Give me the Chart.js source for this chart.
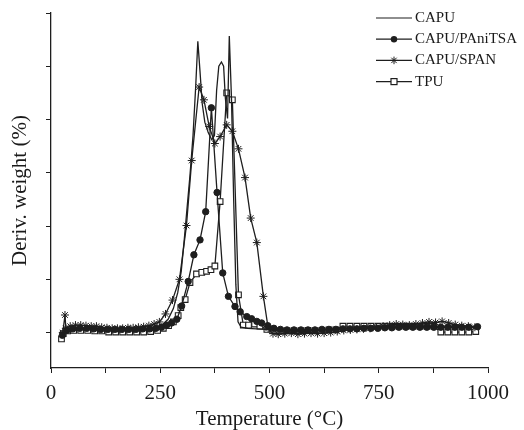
<!DOCTYPE html>
<html>
<head>
<meta charset="utf-8">
<script src="https://cdn.jsdelivr.net/npm/chart.js@4.4.0/dist/chart.umd.min.js"></script>
<style>
  html, body { margin: 0; padding: 0; background: #fff; }
  #wrap { width: 524px; height: 430px; }
</style>
</head>
<body>
<div id="wrap"><canvas id="dtgChart" width="524" height="430"></canvas></div>
<script>
// values (temperature in °C, derivative weight in tick units)
const capuTemp = [25, 30, 45, 60, 80, 100, 120, 140, 160, 180, 200, 220, 240, 255, 268, 280, 290, 298, 305, 312,
  318, 325, 331, 336, 341, 346, 352, 360, 368, 374, 379, 384, 390, 395, 399, 404, 408, 413, 418, 423,
  428, 435, 450, 470, 490, 510, 540, 570, 600, 630, 660, 690, 720, 750, 780, 810, 840, 870, 900, 930, 955, 975];
const capuDeriv = [-0.08, 0.0, 0.06, 0.07, 0.07, 0.07, 0.06, 0.06, 0.06, 0.06, 0.07, 0.08, 0.1, 0.15, 0.25, 0.45, 0.75, 1.15, 1.75, 2.4,
  2.95, 3.7, 4.6, 5.47, 4.9, 4.3, 3.95, 3.75, 3.62, 3.7, 4.55, 5.0, 5.08, 5.0, 4.4, 4.02, 5.57, 4.4, 2.5, 0.9,
  0.2, 0.1, 0.08, 0.07, 0.06, 0.05, 0.05, 0.05, 0.05, 0.06, 0.08, 0.09, 0.1, 0.1, 0.11, 0.12, 0.12, 0.12, 0.12, 0.11, 0.1, 0.1];

const paniTemp = [26, 36, 50, 66, 82, 98, 114, 130, 146, 162, 178, 194, 210, 226, 240, 253, 265, 276, 288, 299,
  314, 327, 341, 354, 367, 380, 393, 406, 421, 433, 448, 459, 471, 482, 496, 510, 525, 540, 556, 572,
  588, 604, 620, 636, 652, 668, 684, 700, 716, 732, 748, 764, 780, 796, 812, 828, 844, 860, 876, 892,
  908, 924, 940, 956, 976];
const paniDeriv = [-0.05, 0.04, 0.07, 0.08, 0.08, 0.07, 0.06, 0.06, 0.06, 0.06, 0.06, 0.06, 0.07, 0.07, 0.08, 0.1, 0.14, 0.18, 0.25, 0.5,
  0.96, 1.46, 1.74, 2.27, 4.22, 2.63, 1.12, 0.68, 0.49, 0.39, 0.3, 0.26, 0.21, 0.18, 0.13, 0.08, 0.06, 0.05, 0.05, 0.05,
  0.05, 0.05, 0.06, 0.06, 0.06, 0.07, 0.07, 0.07, 0.08, 0.08, 0.08, 0.09, 0.09, 0.1, 0.1, 0.1, 0.1, 0.1, 0.1, 0.1,
  0.1, 0.1, 0.1, 0.1, 0.11];

const spanTemp = [27, 32, 34, 44, 56, 68, 80, 92, 104, 116, 128, 140, 152, 164, 176, 188, 200, 212, 224, 236,
  248, 262, 278, 294, 310, 322, 339, 350, 362, 375, 387, 402, 415, 429, 444, 457, 471, 486, 497, 508,
  520, 535, 550, 565, 580, 595, 610, 625, 640, 655, 670, 685, 700, 715, 730, 745, 760, 775, 790, 805,
  820, 835, 850, 865, 880, 895, 910, 925, 940, 955, 970];
const spanDeriv = [0.0, 0.33, 0.08, 0.12, 0.14, 0.14, 0.13, 0.12, 0.12, 0.1, 0.09, 0.08, 0.08, 0.08, 0.09, 0.09, 0.1, 0.11, 0.13, 0.16,
  0.2, 0.35, 0.61, 1.0, 2.01, 3.23, 4.61, 4.37, 3.87, 3.55, 3.68, 3.9, 3.78, 3.45, 2.91, 2.15, 1.69, 0.68, 0.08, -0.02,
  -0.03, -0.02, -0.01, -0.03, -0.02, -0.01, -0.02, -0.01, 0.0, 0.02, 0.04, 0.05, 0.06, 0.07, 0.08, 0.1, 0.12, 0.14, 0.16, 0.15,
  0.14, 0.16, 0.18, 0.2, 0.19, 0.21, 0.18, 0.15, 0.13, 0.12, 0.1];

const tpuTemp = [24, 28, 38, 52, 68, 84, 100, 116, 132, 148, 164, 180, 196, 212, 228, 244, 257, 269, 280, 291,
  297, 307, 318, 333, 345, 356, 366, 375, 387, 402, 415, 429, 440, 452, 466, 478, 494, 508, 524, 540,
  556, 572, 588, 604, 620, 636, 652, 668, 684, 700, 716, 732, 748, 764, 780, 796, 812, 828, 844, 860,
  876, 892, 908, 924, 940, 956, 972];
const tpuDeriv = [-0.12, -0.02, 0.03, 0.04, 0.04, 0.04, 0.03, 0.03, 0.01, 0.01, 0.01, 0.01, 0.01, 0.01, 0.02, 0.04, 0.08, 0.13, 0.2, 0.32,
  0.47, 0.62, 0.94, 1.1, 1.13, 1.15, 1.18, 1.25, 2.46, 4.5, 4.37, 0.71, 0.14, 0.14, 0.16, 0.12, 0.06, 0.04, 0.03, 0.03,
  0.03, 0.03, 0.04, 0.03, 0.04, 0.05, 0.05, 0.12, 0.12, 0.12, 0.12, 0.12, 0.12, 0.12, 0.12, 0.12, 0.12, 0.12, 0.12, 0.12,
  0.12, 0.01, 0.01, 0.01, 0.01, 0.01, 0.02];

const seriesNames = ['CAPU', 'CAPU/PAniTSA', 'CAPU/SPAN', 'TPU'];
const xTickValues = [0, 125, 250, 375, 500, 625, 750, 875, 1000];
const xTickLabels = [0, 250, 500, 750, 1000];
const yTickValues = [0, 1, 2, 3, 4, 5, 6];

const ink = '#1e1e1e';
const serif = '"Liberation Serif", "Times New Roman", serif';

function toPoints(temps, vals) {
    return temps.map((t, i) => ({ x: t, y: vals[i] }));
}

// small legend in the upper right corner: line sample with marker, then the name
const cornerLegend = {
    id: 'cornerLegend',
    afterDraw(chart) {
        const ctx = chart.ctx;
        ctx.save();
        chart.data.datasets.forEach((ds, i) => {
            const y = 18 + i * 21.2;
            ctx.strokeStyle = ink;
            ctx.lineWidth = 1.2;
            ctx.beginPath();
            ctx.moveTo(376, y);
            ctx.lineTo(412, y);
            ctx.stroke();

            const cx = 394;
            if (ds.pointStyle === 'circle') {
                ctx.fillStyle = ink;
                ctx.beginPath();
                ctx.arc(cx, y, 3.2, 0, Math.PI * 2);
                ctx.fill();
            } else if (ds.pointStyle === 'rect') {
                ctx.fillStyle = '#fff';
                ctx.fillRect(cx - 3, y - 3, 6, 6);
                ctx.strokeRect(cx - 3, y - 3, 6, 6);
            } else if (ds.pointStyle === 'star') {
                ctx.lineWidth = 1;
                ctx.beginPath();
                for (let k = 0; k < 4; k++) {
                    const a = k * Math.PI / 4;
                    ctx.moveTo(cx - 3.8 * Math.cos(a), y - 3.8 * Math.sin(a));
                    ctx.lineTo(cx + 3.8 * Math.cos(a), y + 3.8 * Math.sin(a));
                }
                ctx.stroke();
            }

            ctx.fillStyle = '#1a1a1a';
            ctx.font = '15px ' + serif;
            ctx.textBaseline = 'middle';
            ctx.textAlign = 'left';
            ctx.fillText(ds.label, 415, y);
        });
        ctx.restore();
    }
};

const ctx = document.getElementById('dtgChart').getContext('2d');
const dtgChart = new Chart(ctx, {
    type: 'line',
    data: {
        datasets: [
            {
                label: seriesNames[0],
                data: toPoints(capuTemp, capuDeriv),
                borderColor: ink,
                borderWidth: 1.3,
                pointRadius: 0,
                pointStyle: false
            },
            {
                label: seriesNames[1],
                data: toPoints(paniTemp, paniDeriv),
                borderColor: ink,
                borderWidth: 1.3,
                pointStyle: 'circle',
                pointRadius: 3.2,
                pointBackgroundColor: ink,
                pointBorderColor: ink,
                pointBorderWidth: 1
            },
            {
                label: seriesNames[2],
                data: toPoints(spanTemp, spanDeriv),
                borderColor: ink,
                borderWidth: 1.3,
                pointStyle: 'star',
                pointRadius: 4,
                pointBackgroundColor: ink,
                pointBorderColor: ink,
                pointBorderWidth: 1
            },
            {
                label: seriesNames[3],
                data: toPoints(tpuTemp, tpuDeriv),
                borderColor: ink,
                borderWidth: 1.3,
                pointStyle: 'rect',
                pointRadius: 4,
                pointBackgroundColor: '#fff',
                pointBorderColor: ink,
                pointBorderWidth: 1.1
            }
        ]
    },
    options: {
        responsive: false,
        animation: false,
        layout: { padding: { top: 13, right: 36, left: 0, bottom: 0 } },
        elements: { line: { tension: 0 } },
        plugins: {
            legend: { display: false },
            tooltip: { enabled: false }
        },
        scales: {
            x: {
                type: 'linear',
                min: 0,
                max: 1000,
                afterBuildTicks: (scale) => { scale.ticks = xTickValues.map(v => ({ value: v })); },
                afterFit: (scale) => { scale.height = 62; },
                ticks: {
                    autoSkip: false,
                    maxRotation: 0,
                    padding: 8,
                    color: '#1a1a1a',
                    font: { family: serif, size: 21 },
                    callback: (value) => xTickLabels.includes(value) ? String(value) : ''
                },
                grid: { display: true, drawOnChartArea: false, drawTicks: true, tickLength: 5, color: ink, lineWidth: 1 },
                border: { display: true, color: ink, width: 1.3 },
                title: {
                    display: true,
                    text: 'Temperature (°C)',
                    color: '#1a1a1a',
                    font: { family: serif, size: 21, lineHeight: 1 },
                    padding: 0
                }
            },
            y: {
                type: 'linear',
                min: -0.665,
                max: 6,
                afterBuildTicks: (scale) => { scale.ticks = yTickValues.map(v => ({ value: v })); },
                afterFit: (scale) => { scale.width = 51; },
                ticks: { display: false },
                grid: { display: true, drawOnChartArea: false, drawTicks: true, tickLength: 5, color: ink, lineWidth: 1 },
                border: { display: true, color: ink, width: 1.3 },
                title: {
                    display: true,
                    text: 'Deriv. weight (%)',
                    color: '#1a1a1a',
                    font: { family: serif, size: 21, lineHeight: 1.2 },
                    padding: { top: 8, bottom: 0 }
                }
            }
        }
    },
    plugins: [cornerLegend]
});
</script>
</body>
</html>
